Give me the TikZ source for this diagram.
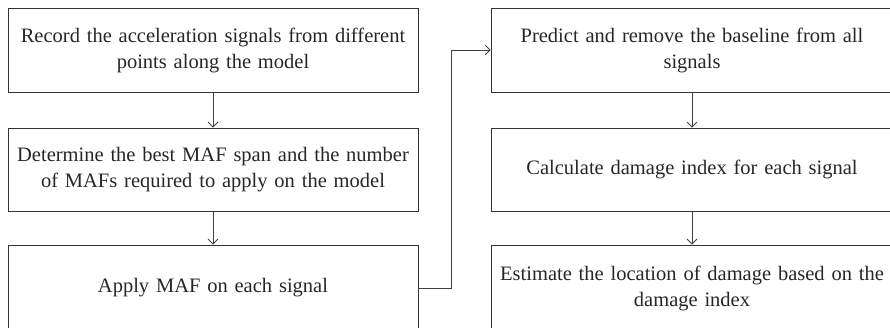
\documentclass[tikz,border=0pt]{standalone}
\usepackage{fontspec}
\setmainfont{Liberation Serif}
\usetikzlibrary{arrows.meta}

\begin{document}
\begin{tikzpicture}[
  x=1pt, y=1pt,
  stepbox/.style={draw=black!80, line width=0.8pt, align=center, inner sep=0pt,
                  text width=400pt, minimum height=84pt, text=black!85,
                  font=\fontsize{20.5}{26}\selectfont},
  leftbox/.style={stepbox, minimum width=410pt},
  rightbox/.style={stepbox, minimum width=402pt},
  arrow/.style={-{Straight Barb[length=5pt,width=10pt]}, draw=black!75, line width=0.8pt}
]
  \useasboundingbox (0,0) rectangle (890,-328);

  \node[leftbox] (l1) at (213,-50)    {Record the acceleration signals from different\\ points along the model};
  \node[leftbox, minimum height=83pt] (l2) at (213,-169.5) {Determine the best MAF span and the number\\ of MAFs required to apply on the model};
  \node[leftbox, minimum height=86pt] (l3) at (213,-288)   {Apply MAF on each signal};

  \node[rightbox] (r1) at (692,-50)    {Predict and remove the baseline from all\\ signals};
  \node[rightbox, minimum height=83pt] (r2) at (692,-169.5) {Calculate damage index for each signal};
  \node[rightbox, minimum height=86pt] (r3) at (692,-288)   {Estimate the location of damage based on the\\ damage index};

  \draw[arrow] (l1) -- (l2);
  \draw[arrow] (l2) -- (l3);
  \draw[arrow] (l3.east) -- ++(33,0) |- (r1.west);
  \draw[arrow] (r1) -- (r2);
  \draw[arrow] (r2) -- (r3);
\end{tikzpicture}
\end{document}
